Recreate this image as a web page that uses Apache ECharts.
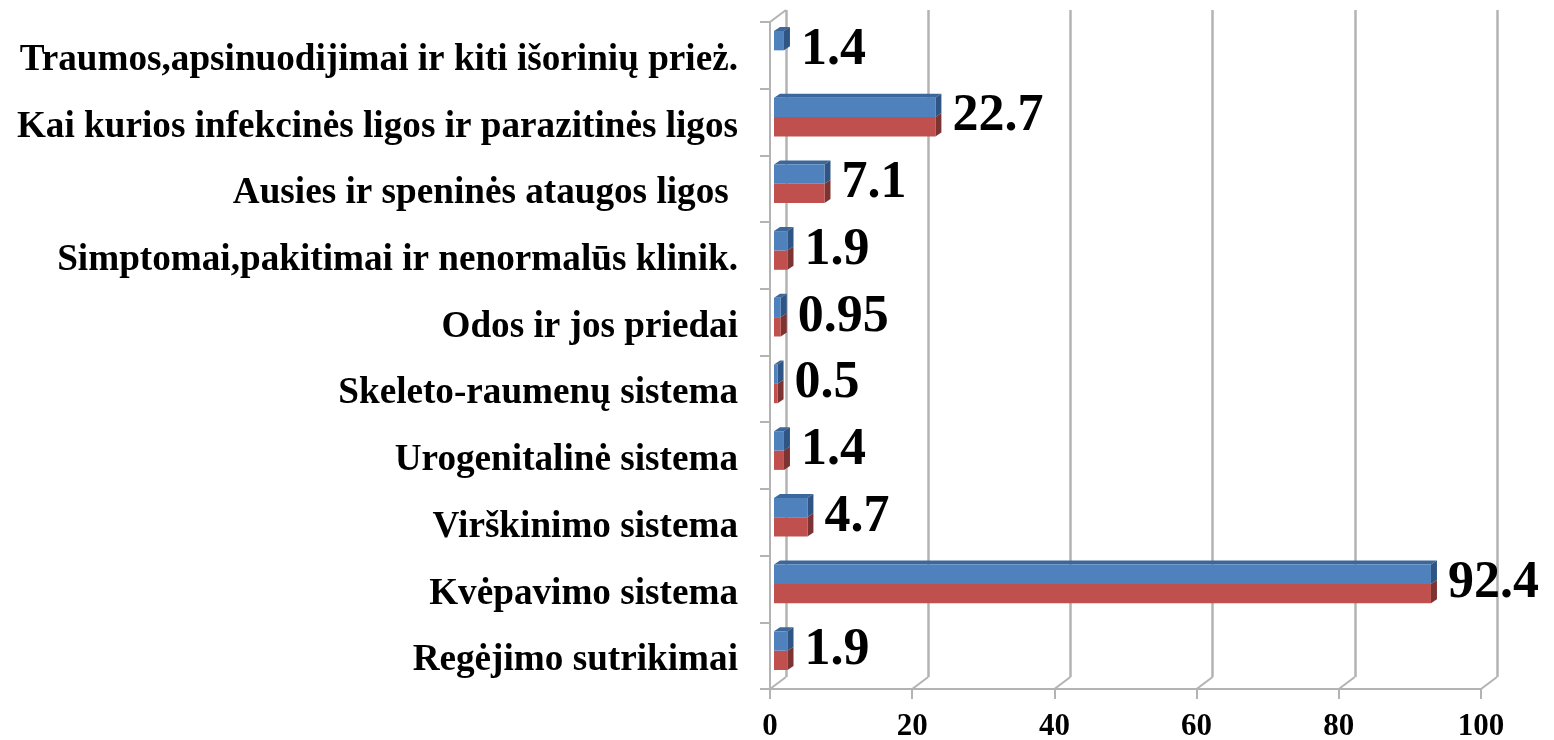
<!DOCTYPE html>
<html><head><meta charset="utf-8">
<style>html,body{margin:0;padding:0;background:#fff}#c{width:1554px;height:740px}</style>
<script src="https://cdn.jsdelivr.net/npm/echarts@6/dist/echarts.min.js"></script>
</head><body><div id="c"></div>
<script>
const categories = ["Regėjimo sutrikimai","Kvėpavimo sistema","Virškinimo sistema","Urogenitalinė sistema","Skeleto-raumenų sistema","Odos ir jos priedai","Simptomai,pakitimai ir nenormalūs klinik.","Ausies ir speninės ataugos ligos ","Kai kurios infekcinės ligos ir parazitinės ligos","Traumos,apsinuodijimai ir kiti išorinių prież."];
const blueValues = [1.9,92.4,4.7,1.4,0.5,0.95,1.9,7.1,22.7,1.4];
const redValues = [1.9,92.4,4.7,1.4,0.5,0.95,1.9,7.1,22.7,null];
const xTicks = [0,20,40,60,80,100];

const FONT = '"Liberation Serif","Times New Roman",serif';
const GRID = '#b3b3b3';
const DX = 16, DY = 12;           // depth of the 3D wall
const chart = echarts.init(document.getElementById('c'));

function poly(points, fill){
  return {type:'polygon', shape:{points}, style:{fill}};
}
function barItem(part){
  return function(params, api){
    const idx = api.value(1), v = api.value(0);
    if (v === null || v === undefined || isNaN(v)) return;
    const band = api.size([0,1])[1];
    const c0 = api.coord([0, idx]), c1 = api.coord([v, idx]);
    const cy = c0[1] - band*0.075;
    const hh = band*0.145;
    const x0 = c0[0]+4, x1 = c1[0]+4;
    const sx = 6, sy = 4;
    const kids = [];
    if (part === 'blue') {
      kids.push(poly([[x0,cy-hh*2+0],[x0+sx,cy-hh*2-sy],[x1+sx,cy-hh*2-sy],[x1,cy-hh*2]], '#3c679a'));
      kids.push(poly([[x1,cy-hh*2],[x1+sx,cy-hh*2-sy],[x1+sx,cy-sy],[x1,cy]], '#2f5585'));
      kids.push({type:'rect', shape:{x:x0,y:cy-hh*2,width:x1-x0,height:hh*2}, style:{fill:'#4f81bd'}});
      kids.push({type:'text', style:{text:String(v), x:x1+sx+11, y:c0[1]-5, font:'bold 52px '+FONT, fill:'#000', align:'left', verticalAlign:'middle'}});
    } else {
      kids.push(poly([[x1,cy],[x1+sx,cy-sy],[x1+sx,cy+hh*2-sy],[x1,cy+hh*2]], '#7c3331'));
      kids.push({type:'rect', shape:{x:x0,y:cy,width:x1-x0,height:hh*2}, style:{fill:'#c0504d'}});
    }
    return {type:'group', children:kids};
  };
}
function floorItem(params, api){
  const v = api.value(0);
  const c = api.coord([v, 0]);
  const band = api.size([0,1])[1];
  const y = c[1]+band/2;
  return {type:'line', shape:{x1:c[0],y1:y,x2:c[0]+DX,y2:y-DY}, style:{stroke:GRID,lineWidth:2}};
}
function wallTopItem(params, api){
  const c = api.coord([0, categories.length-1]);
  const band = api.size([0,1])[1];
  const y = c[1]-band/2;
  return {type:'line', shape:{x1:c[0],y1:y,x2:c[0]+DX,y2:y-DY}, style:{stroke:GRID,lineWidth:2}};
}
const L=770, R=1554-1481, T=22, B=740-689;
chart.setOption({
  animation:false,
  backgroundColor:'#fff',
  grid:[
    {left:L,right:R,top:T,bottom:B,outerBoundsMode:'none'},
    {left:L+DX,right:R-DX,top:T-DY,bottom:B+DY,outerBoundsMode:'none'}
  ],
  xAxis:[
    {type:'value',gridIndex:0,min:0,max:100,interval:20,
     axisLine:{show:true,lineStyle:{color:GRID,width:2}},
     axisTick:{show:true,length:10,lineStyle:{color:GRID,width:2}},
     axisLabel:{show:true,margin:22,fontFamily:FONT,fontWeight:'bold',fontSize:31,color:'#000'},
     splitLine:{show:false}},
    {type:'value',gridIndex:1,min:0,max:100,interval:20,
     axisLine:{show:false},axisTick:{show:false},axisLabel:{show:false},
     splitLine:{show:true,lineStyle:{color:GRID,width:2.5}}}
  ],
  yAxis:[
    {type:'category',gridIndex:0,data:categories,
     axisLine:{show:true,onZero:false,lineStyle:{color:GRID,width:2}},
     axisTick:{show:true,alignWithLabel:false,length:10,lineStyle:{color:GRID,width:2}},
     axisLabel:{show:true,margin:32,fontFamily:FONT,fontWeight:'bold',fontSize:37.2,color:'#000',interval:0,verticalAlign:'top',lineHeight:10},
     splitLine:{show:false}},
    {type:'category',gridIndex:1,data:categories,show:false}
  ],
  series:[
    {type:'custom',xAxisIndex:0,yAxisIndex:0,z:1,renderItem:floorItem,data:xTicks.map(v=>[v]),silent:true},
    {type:'custom',xAxisIndex:0,yAxisIndex:0,z:1,renderItem:wallTopItem,data:[[0]],silent:true},
    {type:'custom',name:'Raudona',xAxisIndex:0,yAxisIndex:0,z:3,renderItem:barItem('red'),encode:{x:0,y:1},
     data:redValues.map((v,i)=>[v,i])},
    {type:'custom',name:'Mėlyna',xAxisIndex:0,yAxisIndex:0,z:4,renderItem:barItem('blue'),encode:{x:0,y:1},
     data:blueValues.map((v,i)=>[v,i])}
  ]
});
</script></body></html>
